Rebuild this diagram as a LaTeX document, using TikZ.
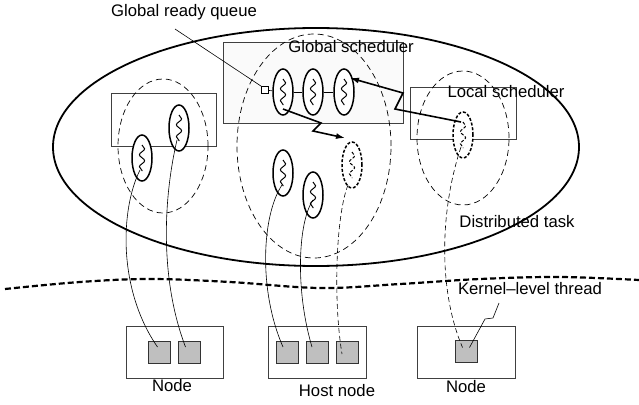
\documentclass[tikz,border=0pt]{standalone}
\usepackage{fontspec}
\setmainfont{Liberation Sans}
\usetikzlibrary{shapes.geometric,decorations.pathmorphing,arrows.meta,calc}

\begin{document}
\begin{tikzpicture}[x=1pt,y=-1pt,
  lbl/.style={font=\fontsize{16.7}{19}\selectfont, inner sep=0pt},
  taskshape/.style={draw, ellipse, line width=1.8pt, inner sep=0pt},
  realm/.style={draw, ellipse, line width=0.7pt, dash pattern=on 6pt off 4pt, inner sep=0pt},
  box/.style={draw=black!75, line width=0.8pt, rectangle, inner sep=0pt},
  thr/.style={draw, ellipse, line width=1.5pt, fill=white, minimum width=20pt, minimum height=46pt, inner sep=0pt},
  ghost/.style={thr, dash pattern=on 3pt off 1.8pt},
  wave/.style={decorate, decoration={snake, segment length=12pt, amplitude=2.6pt}, line width=1pt},
  ghostwave/.style={wave, dash pattern=on 3pt off 1.8pt},
  kt/.style={draw=black!80, fill=black!25, line width=0.8pt, minimum size=22pt, inner sep=0pt},
  link/.style={line width=0.6pt},
  ghostlink/.style={line width=0.6pt, dash pattern=on 5pt off 3pt},
  flash/.style={line width=1.6pt, -{Latex[length=9pt,width=6pt]}},
  horizon/.style={line width=2.2pt, dash pattern=on 6pt off 3pt}
]
\useasboundingbox (0,0) rectangle (639,404);

% distributed task and its domains
\node[taskshape, minimum width=526pt, minimum height=238pt] (task) at (316,147) {};

% scheduler boxes
\node[box, fill=black!2, minimum width=180pt, minimum height=81pt] (gsched) at (313,82.5) {};
\node[box, minimum width=105pt, minimum height=53pt] (lbox) at (163.5,119.5) {};
\node[box, minimum width=106pt, minimum height=52pt] (lsched) at (463,113) {};

\node[realm, minimum width=90pt, minimum height=134pt] (dleft) at (163,146) {};
\node[realm, minimum width=154pt, minimum height=224pt] (dmid) at (314,146) {};
\node[realm, minimum width=92pt, minimum height=134pt] (dright) at (463,138) {};

% separation between task level and kernel level
\draw[horizon] plot[smooth, tension=0.6] coordinates {(5,289) (80,282) (150,279) (230,282) (320,288) (400,284) (480,279) (560,277) (639,280)};

% global ready queue and the threads in the global scheduler
\node[draw, line width=0.6pt, fill=white, minimum size=7pt, inner sep=0pt] (queue) at (265,90) {};
\node[thr] (g1) at (283,92) {};
\node[thr] (g2) at (313,92) {};
\node[thr] (g3) at (344,92) {};
\draw[line width=0.6pt] (queue) -- (g1);
\draw[line width=0.6pt] (g1) -- (g2);
\draw[line width=0.6pt] (g2) -- (g3);

% threads of the distributed task
\node[thr] (ta) at (142,158) {};
\node[thr] (tb) at (179,128) {};
\node[thr] (tc) at (283,173) {};
\node[thr] (td) at (313,195) {};
\node[ghost] (te) at (352,165) {};
\node[ghost] (tr) at (463,135) {};

\foreach \t in {g1,g2,g3,ta,tb,tc,td}
  \draw[wave] ($(\t)+(0,-13)$) -- ($(\t)+(0,13)$);
\foreach \t in {te,tr}
  \draw[ghostwave] ($(\t)+(0,-13)$) -- ($(\t)+(0,13)$);

% kernel-level threads on the nodes
\node[box, minimum width=97pt, minimum height=52pt] (nleft) at (174.5,352) {};
\node[box, minimum width=98pt, minimum height=52pt] (nhost) at (317,352) {};
\node[box, minimum width=98pt, minimum height=52pt] (nright) at (466,352) {};

\node[kt] (k1) at (159.5,352) {};
\node[kt] (k2) at (189.5,352) {};
\node[kt] (k3) at (287,352) {};
\node[kt] (k4) at (317,352) {};
\node[kt] (k5) at (347,352) {};
\node[kt] (k6) at (466.5,351.5) {};

% mapping of user threads onto kernel threads
\draw[link] ($(ta)+(-2,12)$) .. controls (120,210) and (118,290) .. ($(k1)+(-2,-5)$);
\draw[link] ($(tb)+(-2,12)$) .. controls (163,200) and (160,280) .. ($(k2)+(-4,-5)$);
\draw[link] ($(tc)+(-1,12)$) .. controls (262,215) and (258,290) .. ($(k3)+(-4,-5)$);
\draw[link] ($(td)+(0,5)$) .. controls (298,222) and (295,290) .. ($(k4)+(-5,-5)$);
\draw[ghostlink] ($(te)+(-4,20)$) .. controls (336,215) and (333,300) .. ($(k5)+(-5,2)$);
\draw[ghostlink] ($(tr)+(-2,12)$) .. controls (440,210) and (438,290) .. ($(k6)+(-4,-4)$);

% migrations
\coordinate (m1a) at (395,109);
\coordinate (m1b) at (403,93);
\draw[flash] ($(tr)+(-2,-13)$) -- (m1a) -- (m1b) -- ($(g3)+(6,-14)$);
\coordinate (m2a) at (321,123);
\coordinate (m2b) at (313,131);
\draw[flash] ($(g1)+(0,17)$) -- (m2a) -- (m2b) -- ($(te)+(-7,-27)$);

% labels
\node[lbl] (lqueue) at (184,12) {Global ready queue};
\coordinate (qfrom) at (175,29);
\draw[line width=0.6pt] (qfrom) -- (queue.north west);
\node[lbl] (lgs) at (351,47) {Global scheduler};
\node[lbl] (lls) at (506,92) {Local scheduler};
\node[lbl] (ltask) at (517,222) {Distributed task};
\node[lbl] (lkt) at (530,289) {Kernel–level thread};
\coordinate (kt1) at (499,303);
\coordinate (kt2) at (493,318);
\coordinate (kt3) at (485,319);
\draw[line width=0.6pt] (kt1) -- (kt2) -- (kt3) -- ($(k6)+(3,-4)$);
\node[lbl] at (172,386) {Node};
\node[lbl] at (337,391) {Host node};
\node[lbl] at (466,387) {Node};
\end{tikzpicture}
\end{document}
